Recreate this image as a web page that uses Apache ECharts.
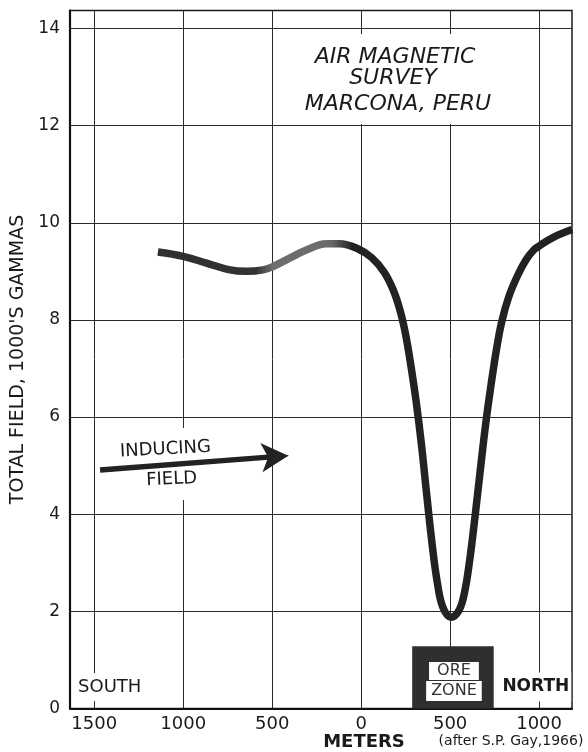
<!DOCTYPE html>
<html>
<head>
<meta charset="utf-8">
<script src="https://cdn.jsdelivr.net/npm/echarts@6/dist/echarts.min.js"></script>
<style>
html,body{margin:0;padding:0;background:#fff;}
#chart{width:588px;height:752px;}
</style>
</head>
<body>
<div id="chart"></div>
<script>
// Distance along profile in meters (south negative, north positive)
const distance = [-1142, -1000, -869, -738, -645, -551, -495, -402, -308, -196, -121, -27,
  60, 130, 180, 220, 250, 280, 310, 340, 370, 400, 430, 460, 505,
  550, 580, 610, 640, 670, 700, 730, 760, 790, 830, 880, 927, 970, 1000, 1080, 1185];
// Total field, 1000's gammas
const totalField = [9.40, 9.31, 9.17, 9.03, 9.00, 9.03, 9.10, 9.27, 9.44, 9.57, 9.57, 9.48,
  9.28, 8.98, 8.62, 8.18, 7.70, 7.05, 6.30, 5.40, 4.35, 3.35, 2.55, 2.08, 1.88,
  2.02, 2.37, 3.05, 3.95, 4.92, 5.86, 6.66, 7.38, 7.96, 8.48, 8.92, 9.24, 9.44, 9.52, 9.70, 9.86];
const xTicks = [-1500, -1000, -500, 0, 500, 1000];
const yTicks = [0, 2, 4, 6, 8, 10, 12, 14];
const xRange = [-1636, 1185];
const yRange = [0, 14.37];
const oreZone = [287, 745];      // meters
const oreZoneTop = 1.28;          // 1000's gammas
const arrowStart = [-1467, 4.91];
const arrowBase = [-521, 5.175];
const arrowTip = [-409, 5.206];

const FONT = 'DejaVu Sans';
const INK = '#1a1a1a';

const chart = echarts.init(document.getElementById('chart'));
const lineData = distance.map((d, i) => [d, totalField[i]]);

chart.setOption({
  animation: false,
  backgroundColor: '#fff',
  grid: {
    left: 70, right: 16, top: 10.5, bottom: 43.5,
    show: true, borderColor: INK, borderWidth: 1.5, backgroundColor: 'transparent'
  },
  xAxis: {
    type: 'value', min: xRange[0], max: xRange[1],
    axisLine: { show: true, onZero: false, lineStyle: { color: '#111', width: 2.2 } },
    axisTick: { show: false, customValues: xTicks },
    axisLabel: {
      customValues: xTicks, formatter: v => String(Math.abs(v)),
      fontFamily: FONT, fontSize: 18, color: INK, margin: 7
    },
    splitLine: { show: true, lineStyle: { color: '#2a2a2a', width: 1 } }
  },
  yAxis: {
    type: 'value', min: yRange[0], max: yRange[1],
    name: "TOTAL FIELD, 1000'S GAMMAS", nameLocation: 'middle', nameGap: 35,
    nameTextStyle: { fontFamily: FONT, fontSize: 19, color: INK },
    axisLine: { show: true, onZero: false, lineStyle: { color: '#111', width: 2.2 } },
    axisTick: { show: false, customValues: yTicks },
    axisLabel: { customValues: yTicks, fontFamily: FONT, fontSize: 17, color: INK, margin: 10 },
    splitLine: { show: true, lineStyle: { color: '#2a2a2a', width: 1 } }
  },
  graphic: [
    { type: 'rect', z: 1, shape: { x: 290, y: 34, width: 228, height: 90 }, style: { fill: '#fff' } },
    { type: 'rect', z: 1, shape: { x: 177, y: 428, width: 16, height: 72 }, style: { fill: '#fff' } },
    { type: 'text', z: 5, x: 395, y: 57, style: { text: 'AIR MAGNETIC', fontFamily: FONT, fontStyle: 'italic', fontSize: 22, fill: INK, align: 'center', verticalAlign: 'middle', textAlign: 'center', textVerticalAlign: 'middle' } },
    { type: 'text', z: 5, x: 393, y: 78, style: { text: 'SURVEY', fontFamily: FONT, fontStyle: 'italic', fontSize: 22, fill: INK, align: 'center', verticalAlign: 'middle', textAlign: 'center', textVerticalAlign: 'middle' } },
    { type: 'text', z: 5, x: 398, y: 104, style: { text: 'MARCONA, PERU', fontFamily: FONT, fontStyle: 'italic', fontSize: 22, fill: INK, align: 'center', verticalAlign: 'middle', textAlign: 'center', textVerticalAlign: 'middle' } },
    { type: 'text', z: 5, x: 165.5, y: 449.5, rotation: 0.052, style: { text: 'INDUCING', fontFamily: FONT, fontSize: 18, fill: INK, align: 'center', verticalAlign: 'middle', textAlign: 'center', textVerticalAlign: 'middle' } },
    { type: 'text', z: 5, x: 171.7, y: 479.5, rotation: 0.045, style: { text: 'FIELD', fontFamily: FONT, fontSize: 18, fill: INK, align: 'center', verticalAlign: 'middle', textAlign: 'center', textVerticalAlign: 'middle' } },
    { type: 'text', z: 5, x: 109.7, y: 687, style: { text: 'SOUTH', fontFamily: FONT, fontSize: 18, fill: INK, backgroundColor: '#fff', padding: [5, 2], align: 'center', verticalAlign: 'middle', textAlign: 'center', textVerticalAlign: 'middle' } },
    { type: 'text', z: 5, x: 535.8, y: 687, style: { text: 'NORTH', fontFamily: FONT, fontWeight: 'bold', fontSize: 17, fill: INK, backgroundColor: '#fff', padding: [6, 2], align: 'center', verticalAlign: 'middle', textAlign: 'center', textVerticalAlign: 'middle' } },
    { type: 'text', z: 5, x: 364, y: 742, style: { text: 'METERS', fontFamily: FONT, fontWeight: 'bold', fontSize: 18, fill: INK, align: 'center', verticalAlign: 'middle', textAlign: 'center', textVerticalAlign: 'middle' } },
    { type: 'text', z: 5, x: 511, y: 741, style: { text: '(after S.P. Gay,1966)', fontFamily: FONT, fontSize: 14, fill: INK, align: 'center', verticalAlign: 'middle', textAlign: 'center', textVerticalAlign: 'middle' } }
  ],
  series: [
    {
      type: 'line',
      data: lineData,
      smooth: 0.4,
      showSymbol: false,
      symbol: 'none',
      z: 3,
      lineStyle: {
        width: 7.5,
        cap: 'butt',
        color: new echarts.graphic.LinearGradient(0, 0, 1, 0, [
          { offset: 0, color: '#2e2e2e' },
          { offset: 0.24, color: '#333' },
          { offset: 0.28, color: '#6e6e6e' },
          { offset: 0.42, color: '#6a6a6a' },
          { offset: 0.47, color: '#222' },
          { offset: 1, color: '#222' }
        ])
      },
      markArea: {
        silent: true,
        itemStyle: { color: '#2f2f2f' },
        label: {
          show: true, position: 'inside', offset: [1, 4],
          formatter: '{o|ORE}\n{z|ZONE}',
          rich: {
            o: { fontFamily: FONT, fontSize: 16, color: '#333', backgroundColor: '#fff', padding: [1, 8, 1, 8], lineHeight: 19 },
            z: { fontFamily: FONT, fontSize: 16, color: '#333', backgroundColor: '#fff', padding: [2, 5, 2, 5], lineHeight: 21 }
          }
        },
        data: [[{ coord: [oreZone[0], yRange[0]] }, { coord: [oreZone[1], oreZoneTop] }]]
      },
      markLine: {
        silent: true,
        symbol: ['none', 'none'],
        label: { show: false },
        lineStyle: { color: '#222', width: 5.5, type: 'solid' },
        data: [
          [{ coord: arrowStart }, { coord: arrowBase }],
          [
            { coord: arrowBase, symbol: 'none', lineStyle: { width: 1, color: '#222' } },
            { coord: arrowTip, symbol: 'arrow', symbolSize: [22, 27] }
          ]
        ]
      }
    }
  ]
});
</script>
</body>
</html>
